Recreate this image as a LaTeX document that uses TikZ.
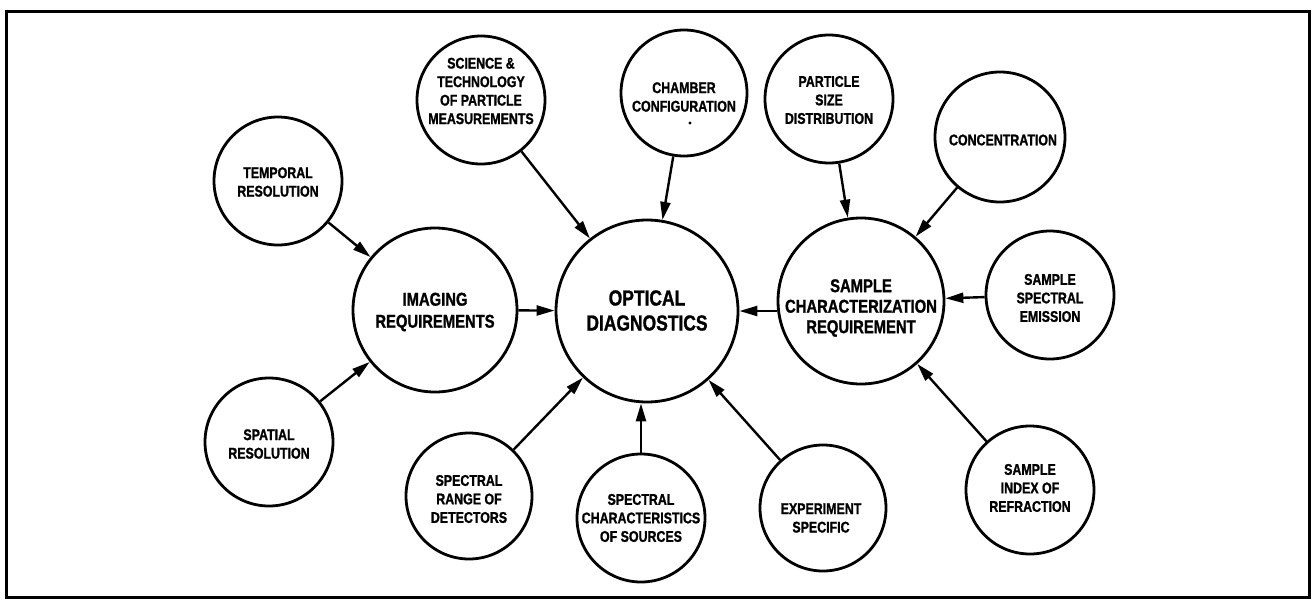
\documentclass[tikz,border=0pt]{standalone}
\usepackage{fontspec}
\setmainfont{Liberation Sans}
\newfontfamily\condsans{Liberation Sans}[FakeStretch=0.8,BoldFeatures={FakeBold=1.2}]
\usetikzlibrary{arrows.meta}

\begin{document}
\begin{tikzpicture}[x=1pt,y=-1pt,
  bubble/.style={circle,draw,line width=2.8pt,inner sep=0pt,minimum size=#1},
  bubble/.default=128pt,
  label/.style={inner sep=0pt,align=center,
    font=\condsans\bfseries\fontsize{15.5}{18.5}\selectfont},
  biglabel/.style={inner sep=0pt,align=center,
    font=\condsans\bfseries\fontsize{18.5}{#1}\selectfont},
  hugelabel/.style={inner sep=0pt,align=center,
    font=\condsans\bfseries\fontsize{21.8}{25}\selectfont},
  speck/.style={circle,fill,inner sep=0pt,minimum size=3.2pt},
  feed/.style={line width=2.4pt,-{Triangle[length=18pt,width=10pt]}}
]
% page area and frame
\useasboundingbox (0,0) rectangle (1316,605);
\draw[line width=3pt] (6,11) rectangle (1309,597);

% central bubbles
\node[bubble=164pt] (imaging) at (435,310) {};
\node[bubble=182pt] (optical) at (647,311) {};
\node[bubble=166pt] (sample)  at (861,301) {};

% outer bubbles
\node[bubble] (temporal)      at (278,181) {};
\node[bubble] (science)       at (481,100) {};
\node[bubble=126pt] (chamber) at (684,93)  {};
\node[bubble] (particle)      at (829,99)  {};
\node[bubble=130pt] (concentration) at (1000,137) {};
\node[bubble] (emission)      at (1050,295) {};
\node[bubble] (spatial)       at (269,442) {};
\node[bubble=126pt] (range)   at (469,496) {};
\node[bubble] (sources)       at (641,518) {};
\node[bubble=126pt] (experiment) at (823,508) {};
\node[bubble] (index)         at (1030,490) {};

% texts
\node[biglabel=22] (imaging-t) at (435,312) {IMAGING\\REQUIREMENTS};
\node[hugelabel] (optical-t) at (647,310.5) {OPTICAL\\DIAGNOSTICS};
\node[biglabel=20.5] (sample-t) at (861,308) {SAMPLE\\CHARACTERIZATION\\REQUIREMENT};

\node[label] (temporal-t) at (278,182) {TEMPORAL\\RESOLUTION};
\node[label] (science-t) at (481,91) {SCIENCE \&\\TECHNOLOGY\\OF PARTICLE\\MEASUREMENTS};
\node[label] (chamber-t) at (684,97) {CHAMBER\\CONFIGURATION};
\node[speck] (chamber-dot) at (690,123) {};
\node[label] (particle-t) at (829,100) {PARTICLE\\SIZE\\DISTRIBUTION};
\node[label] (concentration-t) at (1003,140) {CONCENTRATION};
\node[label] (emission-t) at (1050,298) {SAMPLE\\SPECTRAL\\EMISSION};
\node[label] (spatial-t) at (269,444) {SPATIAL\\RESOLUTION};
\node[label] (range-t) at (469,499) {SPECTRAL\\RANGE OF\\DETECTORS};
\node[label] (sources-t) at (641,518) {SPECTRAL\\CHARACTERISTICS\\OF SOURCES};
\node[label] (experiment-t) at (821,518) {EXPERIMENT\\SPECIFIC};
\node[label] (index-t) at (1030,488) {SAMPLE\\INDEX OF\\REFRACTION};

% connectors
\draw[feed] (temporal) -- (imaging);
\draw[feed] (spatial) -- (imaging);
\draw[feed] (imaging) -- (optical);
\draw[feed] (science) -- (optical);
\draw[feed] (chamber) -- (optical);
\draw[feed] (range) -- (optical);
\draw[feed] (sources.north) -- (sources.north |- optical.south);
\draw[feed] (experiment) -- (optical);
\draw[feed] (sample.west |- optical.east) -- (optical.east);
\draw[feed] (particle) -- (sample);
\draw[feed] (concentration) -- (sample);
\draw[feed] (emission) -- (sample);
\draw[feed] (index) -- (sample);
\end{tikzpicture}
\end{document}
